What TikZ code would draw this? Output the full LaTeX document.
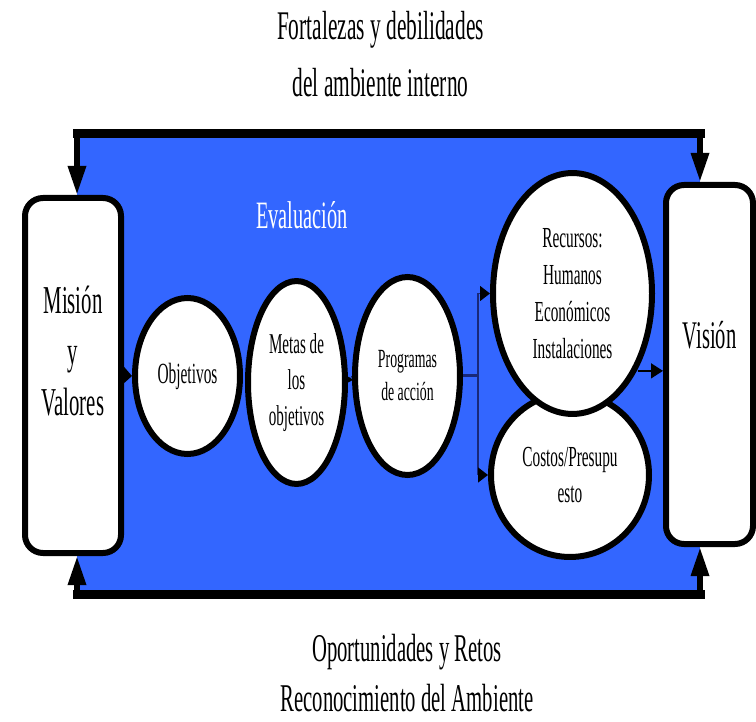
\documentclass[tikz,border=0pt]{standalone}
\usepackage{fontspec}
\setmainfont{Liberation Serif}
\usepackage{tikz}
\usetikzlibrary{shapes.geometric, arrows.meta, positioning, calc}
\definecolor{evalblue}{RGB}{51,102,255}
\definecolor{navyline}{RGB}{25,40,120}

\begin{document}
\begin{tikzpicture}[
    x=1pt, y=-1pt,
    tall/.style={yscale=1.9},
    sidebox/.style={draw, line width=6pt, rounded corners=18pt, fill=white},
    stage/.style={draw, ellipse, line width=6pt, fill=white, align=center, inner sep=1pt, tall},
    caption/.style={align=center, inner sep=0.5pt, tall},
    arrow/.style={-{Triangle[length=12pt, width=15pt]}, line width=1.5pt},
    branch/.style={draw=navyline, line width=1.5pt},
    feedback/.style={-{Triangle[length=29pt, width=17pt]}, line width=6pt},
    bar/.style={line width=9pt, line cap=rect}
]
    \useasboundingbox (0,0) rectangle (756,722);

    % evaluation loop area
    \coordinate (tl) at (77,134);
    \coordinate (tr) at (700,134);
    \coordinate (bl) at (77,594);
    \coordinate (br) at (700,594);
    \fill[evalblue] (tl) rectangle (br);

    \node[caption, font=\fontsize{21.4}{30}\selectfont] (strengths) at (380.5,54.5) {Fortalezas y debilidades\\del ambiente interno};
    \node[caption, font=\fontsize{20.7}{26}\selectfont] (threats) at (407,673) {Oportunidades y Retos\\Reconocimiento del Ambiente};
    \node[caption, text=white, font=\fontsize{20.4}{24}\selectfont] (eval) at (302,215) {Evaluación};

    % side boxes
    \node[sidebox, minimum width=96pt, minimum height=355pt] (mision) at (73,375.5) {};
    \node[caption, font=\fontsize{20.8}{26.8}\selectfont] (misiontext) at ([yshift=24.5pt]mision.center) {Misión\\y\\Valores};
    \node[sidebox, minimum width=87pt, minimum height=359pt] (vision) at (709.5,364.5) {};
    \node[caption, font=\fontsize{20.6}{24}\selectfont] (visiontext) at ([yshift=29.5pt]vision.center) {Visión};

    % stages
    \node[stage, minimum width=105pt, minimum height=82.1pt, font=\fontsize{15.4}{19}\selectfont] (obj) at (187.5,376) {Objetivos};
    \node[stage, minimum width=97pt, minimum height=106.8pt, font=\fontsize{15.1}{19}\selectfont] (metas) at (296.5,382.5) {Metas de\\los\\objetivos};
    \node[stage, minimum width=105pt, minimum height=104.2pt, font=\fontsize{13.8}{17.4}\selectfont] (prog) at (407.5,376) {Programas\\de acción};
    \node[stage, minimum width=158pt, minimum height=86.3pt, font=\fontsize{15.3}{19}\selectfont] (costos) at (570,475) {Costos/Presupu\\esto};
    \node[stage, minimum width=159pt, minimum height=126.8pt, font=\fontsize{15.3}{19.5}\selectfont] (recursos) at (572.5,293.5) {Recursos:\\Humanos\\Económicos\\Instalaciones};

    % feedback lines
    \draw[bar] (tl) -- (tr);
    \draw[bar] (bl) -- (br);
    \draw[feedback] (tl) -- (tl |- mision.north);
    \draw[feedback] (tr) -- (tr |- vision.north);
    \draw[feedback] (bl) -- (bl |- mision.south);
    \draw[feedback] (br) -- (br |- vision.south);

    % flow
    \draw[arrow, -{Triangle[length=10pt, width=20pt]}] (mision.east) -- (obj.west);
    \draw[-{Triangle[length=5pt, width=6pt]}] (prog.west) -- (metas.east);
    \draw[branch, line width=3pt] (prog.east) -- ++(15,0) coordinate (fork);
    \draw[branch] (fork |- recursos.west) -- (fork |- costos.west);
    \draw[branch, -{Triangle[length=10pt, width=15pt, color=black]}] (fork |- recursos.west) -- (recursos.west);
    \draw[branch, -{Triangle[length=10pt, width=15pt, color=black]}] (fork |- costos.west) -- (costos.west);
    \draw[arrow] (recursos.-32) -- (recursos.-32 -| vision.west);
\end{tikzpicture}
\end{document}
